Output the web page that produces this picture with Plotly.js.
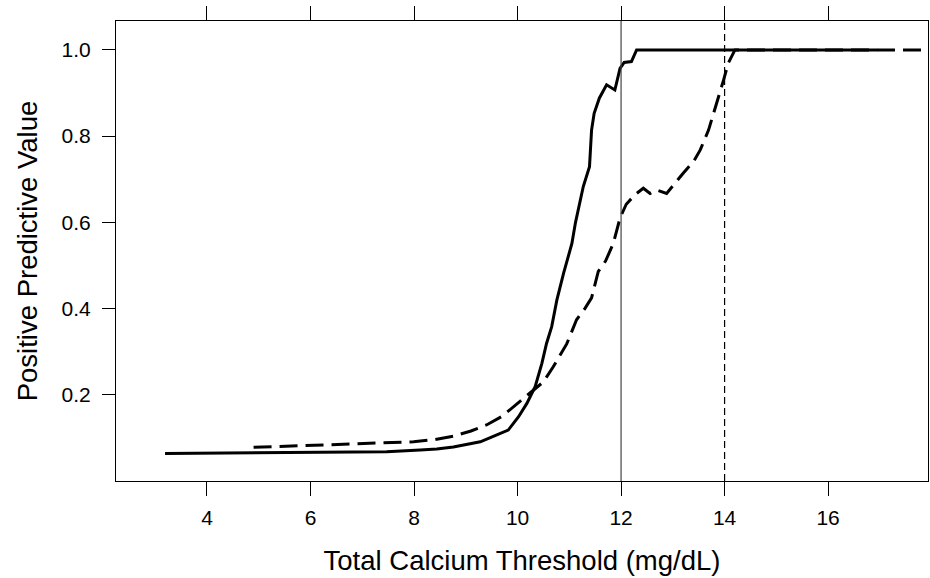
<!DOCTYPE html>
<html>
<head>
<meta charset="utf-8">
<script src="https://cdn.plot.ly/plotly-3.0.1.min.js"></script>
<style>html,body{margin:0;padding:0;background:#fff;}#chart{width:930px;height:578px;}</style>
</head>
<body>
<div id="chart"></div>
<script>
// Solid curve (threshold vs PPV)
var solidX = [3.19, 4.5, 5.8, 6.8, 7.47, 8.12, 8.44, 8.76, 9.08, 9.28, 9.6, 9.82, 10.02, 10.18, 10.34, 10.47, 10.56, 10.66, 10.76, 10.89, 11.05, 11.12, 11.27, 11.35, 11.39, 11.43, 11.48, 11.58, 11.72, 11.88, 11.98, 12.06, 12.2, 12.3, 13.5, 15.0, 16.95];
var solidY = [0.064, 0.065, 0.066, 0.067, 0.068, 0.072, 0.074, 0.079, 0.087, 0.091, 0.107, 0.118, 0.149, 0.18, 0.219, 0.273, 0.319, 0.358, 0.42, 0.482, 0.551, 0.6, 0.683, 0.714, 0.729, 0.814, 0.853, 0.888, 0.919, 0.907, 0.957, 0.971, 0.973, 1.0, 1.0, 1.0, 1.0];
// Dashed curve
var dashX = [4.9, 5.9, 6.83, 7.5, 7.99, 8.4, 8.76, 9.1, 9.4, 9.7, 9.92, 10.1, 10.31, 10.5, 10.69, 10.95, 11.14, 11.3, 11.43, 11.56, 11.7, 11.85, 11.98, 12.1, 12.27, 12.43, 12.56, 12.69, 12.88, 13.04, 13.2, 13.4, 13.53, 13.69, 13.85, 13.98, 14.07, 14.2, 15.5, 17.0, 17.9];
var dashY = [0.078, 0.082, 0.086, 0.088, 0.091, 0.096, 0.104, 0.116, 0.13, 0.15, 0.172, 0.192, 0.211, 0.23, 0.265, 0.318, 0.374, 0.4, 0.425, 0.486, 0.51, 0.551, 0.61, 0.642, 0.664, 0.679, 0.667, 0.675, 0.667, 0.691, 0.714, 0.741, 0.768, 0.814, 0.876, 0.93, 0.969, 1.0, 1.0, 1.0, 1.0];
// Axis ticks
var xTicks = [4, 6, 8, 10, 12, 14, 16];
var yTicks = [0.2, 0.4, 0.6, 0.8, 1.0];
var yTickText = ["0.2", "0.4", "0.6", "0.8", "1.0"];
// Reference thresholds
var refSolid = 12;
var refDashed = 14;

var traces = [
  {x: solidX, y: solidY, type: 'scatter', mode: 'lines', line: {color: '#000', width: 3}, hoverinfo: 'skip'},
  {x: dashX, y: dashY, type: 'scatter', mode: 'lines', line: {color: '#000', width: 3, dash: '18px,8px'}, hoverinfo: 'skip'}
];

var fam = 'Liberation Sans, Arial, sans-serif';

var layout = {
  width: 930, height: 578,
  margin: {l: 116, r: 2, t: 21, b: 97},
  paper_bgcolor: '#fff', plot_bgcolor: '#fff',
  showlegend: false,
  font: {family: fam, color: '#000', size: 21},
  xaxis: {
    range: [2.242, 17.93],
    tickvals: xTicks, ticktext: xTicks.map(String),
    ticks: 'outside', ticklen: 14, tickwidth: 1, tickcolor: '#000',
    ticklabelstandoff: 4,
    showline: true, linecolor: '#000', linewidth: 1, mirror: 'ticks',
    showgrid: false, zeroline: false,
    tickfont: {family: fam, size: 21, color: '#000'},
    title: {text: 'Total Calcium Threshold (mg/dL)', font: {family: fam, size: 27.5, color: '#000'}, standoff: 22}
  },
  yaxis: {
    range: [0.0, 1.067],
    tickvals: yTicks, ticktext: yTickText,
    ticks: 'outside', ticklen: 13, tickwidth: 1, tickcolor: '#000',
    ticklabelstandoff: 7,
    showline: true, linecolor: '#000', linewidth: 1, mirror: true,
    showgrid: false, zeroline: false,
    tickfont: {family: fam, size: 21, color: '#000'},
    title: {text: 'Positive Predictive Value', font: {family: fam, size: 27.5, color: '#000'}, standoff: 15}
  },
  shapes: [
    {type: 'line', xref: 'x', yref: 'paper', x0: refSolid, x1: refSolid, y0: 0, y1: 1, line: {color: '#444', width: 1.2}},
    {type: 'line', xref: 'x', yref: 'paper', x0: refDashed, x1: refDashed, y0: 0, y1: 1, line: {color: '#000', width: 1.2, dash: '7px,4px'}}
  ]
};

Plotly.newPlot('chart', traces, layout, {staticPlot: true, displayModeBar: false});
</script>
</body>
</html>
